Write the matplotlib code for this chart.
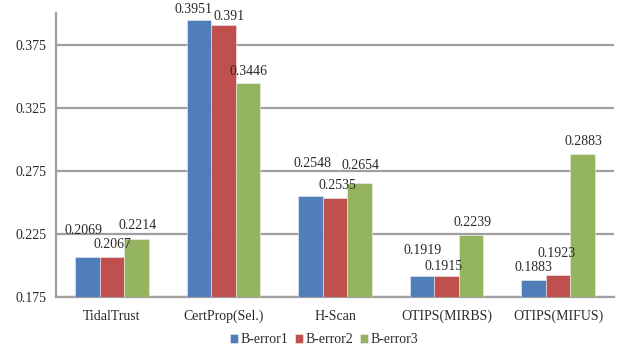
import matplotlib
matplotlib.use("Agg")
import matplotlib.pyplot as plt
import numpy as np

categories = ["TidalTrust", "CertProp(Sel.)", "H-Scan", "OTIPS(MIRBS)", "OTIPS(MIFUS)"]
series_names = ["B-error1", "B-error2", "B-error3"]
b_error1 = [0.2069, 0.3951, 0.2548, 0.1919, 0.1883]
b_error2 = [0.2067, 0.391, 0.2535, 0.1915, 0.1923]
b_error3 = [0.2214, 0.3446, 0.2654, 0.2239, 0.2883]
y_ticks = [0.175, 0.225, 0.275, 0.325, 0.375]

colors = ["#4F7EB8", "#C0504D", "#95B460"]

# label offsets in pixels (dx, dy) relative to the top-centre of each bar
label_offsets = [
    [(-4, 26), (-5, 10), (2, 33), (1, 25), (0, 13)],
    [(1, 13), (6, 8), (2, 13), (-3, 10), (-2, 22)],
    [(1, 13), (1, 12), (1, 18), (1, 13), (1, 13)],
]

plt.rcParams["font.family"] = ["Liberation Serif", "DejaVu Serif"]

fig = plt.figure(figsize=(6.18, 3.46), dpi=100)
ax = fig.add_axes([0.0906, 0.1416, 0.9029, 0.8194])

x = np.arange(len(categories))
width = 0.22
series = [b_error1, b_error2, b_error3]
for k, (vals, col, name) in enumerate(zip(series, colors, series_names)):
    pos = x + (k - 1) * width
    ax.bar(pos, [v - y_ticks[0] for v in vals], width, bottom=y_ticks[0],
           color=col, label=name, zorder=3, edgecolor="#f0f0f0", linewidth=0.4)
    for j, (p, v) in enumerate(zip(pos, vals)):
        dx, dy = label_offsets[k][j]
        ax.annotate(f"{v:g}", xy=(p, v), xytext=(dx, dy), textcoords="offset pixels",
                    ha="center", va="center", fontsize=10, color="#2a2a2a", zorder=4)

ax.set_xlim(-0.5, len(categories) - 0.5)
ax.set_ylim(0.175, 0.4)
ax.set_yticks(y_ticks)
ax.set_yticklabels([f"{t:.3f}" for t in y_ticks], fontsize=10, color="#2a2a2a")
ax.set_xticks(x)
ax.set_xticklabels(categories, fontsize=10, color="#2a2a2a")
ax.tick_params(axis="y", length=0, pad=7)
ax.tick_params(axis="x", length=0, pad=9)

ax.yaxis.grid(True, color="#a0a0a0", linewidth=1.6, zorder=0)
ax.set_axisbelow(True)
for s in ["top", "right"]:
    ax.spines[s].set_visible(False)
for s in ["left", "bottom"]:
    ax.spines[s].set_color("#a0a0a0")
    ax.spines[s].set_linewidth(1.6)

leg = fig.legend(loc="center", bbox_to_anchor=(0.524, 0.018), ncol=3, frameon=False,
                 fontsize=10, handlelength=0.6, handleheight=0.6, handletextpad=0.15,
                 columnspacing=0.5)
for t in leg.get_texts():
    t.set_color("#2a2a2a")

fig.savefig("out.png", dpi=100)
